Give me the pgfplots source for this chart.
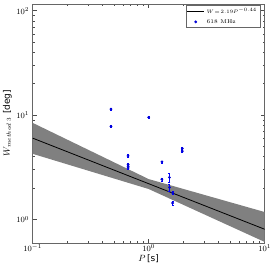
\documentclass[border=0pt]{standalone}
\usepackage{fontspec}
\setmainfont{DejaVu Sans}
\newfontfamily\lmr{Latin Modern Roman}
\usepackage{pgfplots}
\pgfplotsset{compat=1.18}
\begin{document}
\begin{tikzpicture}
\begin{axis}[
  at={(0,0)}, anchor=south west,
  scale only axis, width=232pt, height=238.7pt,
  xmode=log, ymode=log,
  xmin=0.1, xmax=10, ymin=0.6, ymax=116,
  tick align=inside,
  major tick length=4pt, minor tick length=2pt,
  axis line style={black!60},
  tick style={black!70, line width=0.5pt},
  xtick={0.1,1,10}, ytick={1,10,100},
  ticklabel style={font=\fontsize{8}{9}\selectfont},
  xticklabel style={yshift=1.5pt},
  xlabel={$P\,$[s]}, ylabel={$W_{method\;3}$ [deg]},
  label style={font=\fontsize{9}{10}\selectfont},
  xlabel style={yshift=4pt},
  ylabel style={yshift=-2pt},
  legend cell align=left,
  legend style={at={(0.98,0.995)}, anchor=north east, font=\fontsize{5.5}{6.5}\selectfont,
    draw=black!60, inner sep=1pt, row sep=0pt},
]
\addplot[draw=none, fill=black!50, forget plot] coordinates {
  (0.1,8.43) (1,2.44) (10,1.18) (10,0.61) (1,1.96) (0.1,4.26)
} -- cycle;
\addplot[black, line width=0.8pt] coordinates {(0.1,6.02) (10,0.807)};
\addlegendentry{$W\!=\!2.19P^{-0.44}$}
\addplot[blue!85!black, only marks, mark=*, mark size=1.2pt,
  error bars/.cd, y dir=both, y explicit,
  error bar style={blue, line width=0.4pt},
  error mark options={rotate=90, mark size=1pt, blue}]
coordinates {
  (0.473,11.4) +- (0,0.25)
  (0.473,7.8) +- (0,0.2)
  (1.0,9.5) +- (0,0.2)
  (0.664,4.07) +- (0,0.12)
  (0.664,3.37) +- (0,0.08)
  (0.664,3.24) +- (0,0.08)
  (0.664,3.12) +- (0,0.08)
  (1.30,3.57) +- (0,0.08)
  (1.30,2.43) +- (0,0.08)
  (1.51,2.53) +- (0,0.23)
  (1.51,2.03) +- (0,0.15)
  (1.61,1.80) +- (0,0.06)
  (1.61,1.44) +- (0,0.06)
  (1.95,4.80) +- (0,0.10)
  (1.95,4.52) +- (0,0.10)
};
\addlegendentry{{\lmr 618 MHz}}
\end{axis}
\pgfresetboundingbox
\path[use as bounding box] (-32.7pt,-26.3pt) rectangle (243.3pt,242.7pt);
\end{tikzpicture}
\end{document}
